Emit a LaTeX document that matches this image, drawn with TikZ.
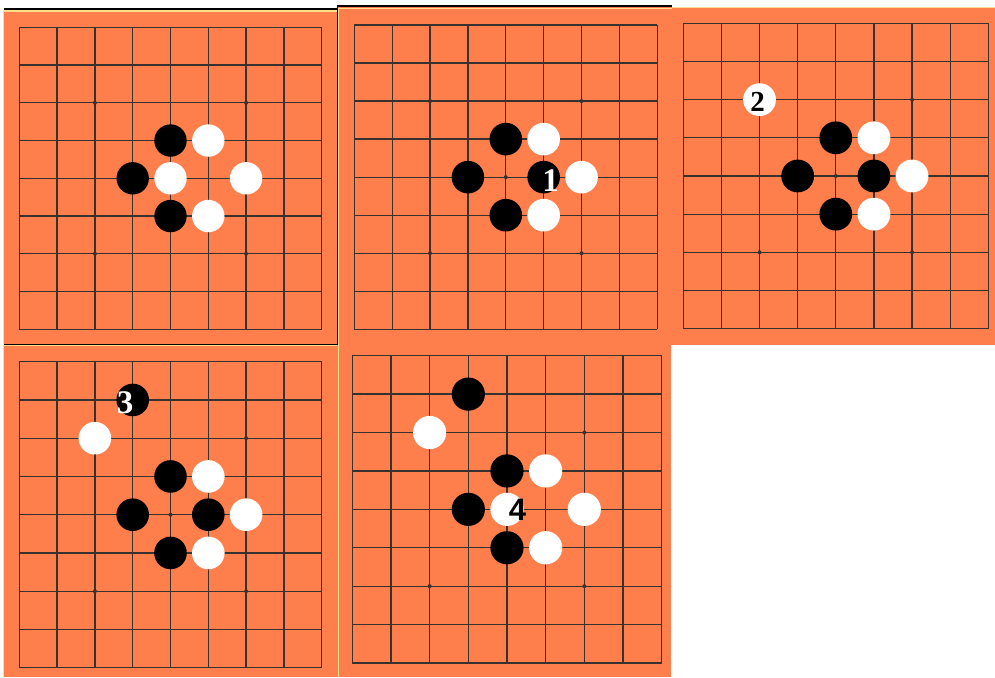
\documentclass[tikz,border=0pt]{standalone}
\usepackage{fontspec}
\setmainfont{Liberation Serif}
\newfontfamily\labsans{Liberation Sans}
\definecolor{boardc}{RGB}{255,127,76}
\definecolor{creamc}{RGB}{255,222,140}
\definecolor{gridc}{RGB}{55,50,48}
\tikzset{
  gl/.style={draw=gridc, line width=1.3pt},
  panel/.style={fill=boardc},
  edgeb/.style={draw=black},
  edgec/.style={draw=creamc, line width=1.2pt},
  bst/.style={fill=black},
  wst/.style={fill=white},
  labserif/.style={inner sep=0pt, font=\fontsize{33}{33}\selectfont\bfseries},
  labsans/.style={inner sep=0pt, font=\labsans\fontsize{31}{31}\selectfont\bfseries},
}
\newcommand\boardgrid{%
  \foreach \i in {0,...,8}{\draw[gl] (\i,0) -- (\i,8); \draw[gl] (0,\i) -- (8,\i);}
  \foreach \p/\q in {2/2,6/2,2/6,6/6,4/4}{\fill[gridc] (\p,\q) circle[radius=2pt];}
}
\newcommand\basestones[1]{% common centre group
  \fill[bst] (4,3) circle[radius=#1];
  \fill[wst] (5,3) circle[radius=#1];
  \fill[bst] (3,4) circle[radius=#1];
  \fill[bst] (4,5) circle[radius=#1];
  \fill[wst] (5,5) circle[radius=#1];
  \fill[wst] (6,4) circle[radius=#1];
}
\begin{document}
\begin{tikzpicture}[x=1pt,y=-1pt]
\useasboundingbox (0,0) rectangle (995,677);
\fill[white] (0,0) rectangle (995,677);
% panels
\fill[panel] (4,10) rectangle (337,344);
\fill[panel] (338,7) rectangle (672,345);
\fill[panel] (672,7) rectangle (995,345);
\fill[panel] (4,345) rectangle (338,677);
\fill[panel] (338,345) rectangle (671,677);
% frame edges
\draw[edgec] (3.4,10) -- (3.4,677);
\draw[edgec] (4,11) -- (337,11);
\draw[edgec] (338.3,8) -- (338.3,677);
\draw[edgec] (338,8.2) -- (672,8.2);
\draw[edgec] (672,7.6) -- (995,7.6);
\draw[edgec] (4,345.6) -- (337,345.6);
\draw[edgeb, line width=2.6pt] (4,9.2) -- (337.5,9.2);
\draw[edgeb, line width=1.8pt] (336.5,6.2) -- (672,6.2);
\draw[edgeb, line width=1.2pt] (337.2,6) -- (337.2,344.6);
\draw[edgeb, line width=1.2pt] (4,344.4) -- (337.5,344.4);
% panel 1
\begin{scope}[shift={(19.3pt,-27.3pt)}, x=37.8pt, y=-37.75pt]
  \boardgrid
  \basestones{16.2pt}
  \fill[wst] (4,4) circle[radius=16.2pt];
\end{scope}
% panel 2
\begin{scope}[shift={(354.3pt,-25pt)}, x=37.875pt, y=-38.04pt]
  \boardgrid
  \basestones{16.3pt}
  \fill[bst] (5,4) circle[radius=16.3pt];
  \node[labserif, text=white] (m1) at (5.18,4.08) {1};
\end{scope}
% panel 3
\begin{scope}[shift={(683.3pt,-23.3pt)}, x=38.125pt, y=-38.17pt]
  \boardgrid
  \basestones{16.4pt}
  \fill[bst] (5,4) circle[radius=16.4pt];
  \fill[wst] (2,2) circle[radius=16.4pt];
  \node[labserif, text=black, font=\fontsize{29}{29}\selectfont\bfseries] (m2) at (1.95,2.07) {2};
\end{scope}
% panel 4
\begin{scope}[shift={(19.3pt,-361.7pt)}, x=37.8pt, y=-38.25pt]
  \boardgrid
  \basestones{16.3pt}
  \fill[bst] (5,4) circle[radius=16.3pt];
  \fill[wst] (2,2) circle[radius=16.3pt];
  \fill[bst] (3,1) circle[radius=16.3pt];
  \node[labserif, text=white] (m3) at (2.8,1.08) {3};
\end{scope}
% panel 5
\begin{scope}[shift={(352.3pt,-355.7pt)}, x=38.67pt, y=-38.41pt]
  \boardgrid
  \basestones{16.6pt}
  \fill[wst] (4,4) circle[radius=16.6pt];
  \fill[wst] (2,2) circle[radius=16.6pt];
  \fill[bst] (3,1) circle[radius=16.6pt];
  \node[labsans, text=black] (m4) at (4.27,4.01) {4};
\end{scope}
\end{tikzpicture}
\end{document}
